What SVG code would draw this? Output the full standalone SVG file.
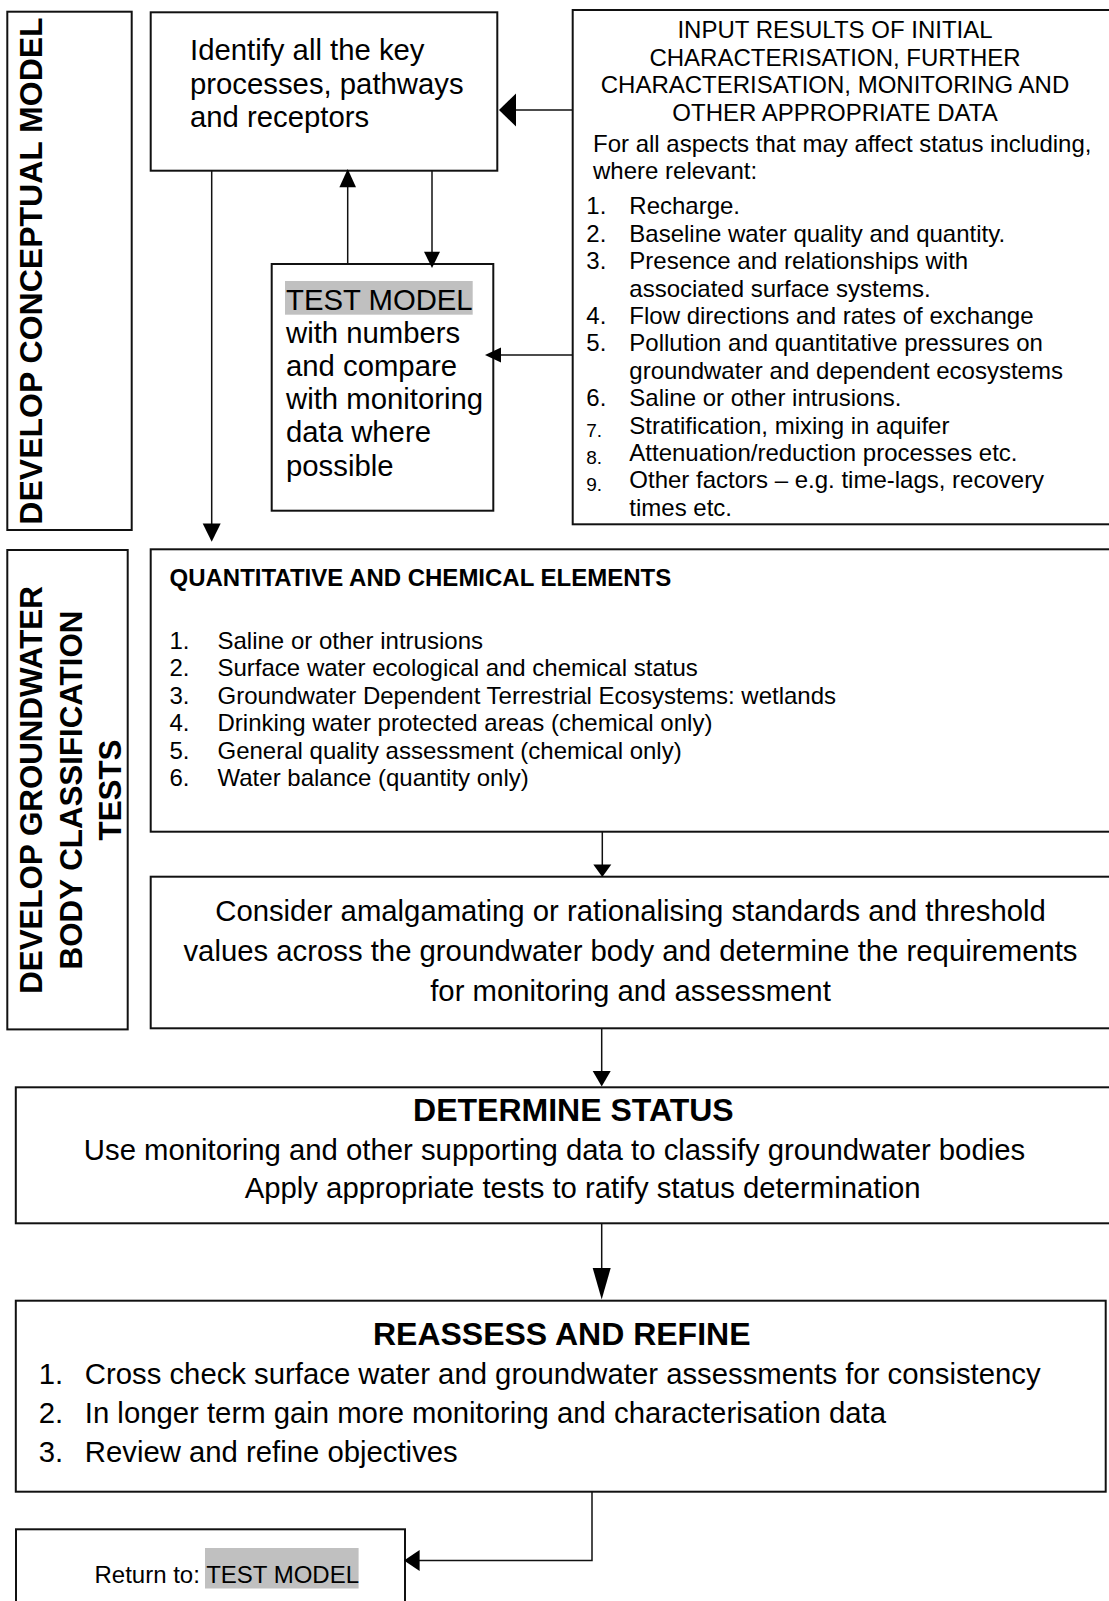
<svg xmlns="http://www.w3.org/2000/svg" width="1109" height="1601" viewBox="0 0 1109 1601">
<style>
.box{fill:#fff;stroke:#111;stroke-width:2}
.ln{fill:none;stroke:#111;stroke-width:1.5}
.ah{fill:#000;stroke:none}
.t{font-family:"Liberation Sans",Arial,sans-serif;fill:#000}
.b{font-weight:bold}
.hl{fill:#c0c0c0}
.s24{font-size:24px}
.s29{font-size:29.3px}
.s32{font-size:32px}
.m{text-anchor:middle}
</style>
<rect width="1109" height="1601" fill="#fff"/>

<g id="lane-conceptual">
<rect class="box" x="7.3" y="11.7" width="124.4" height="518.3"/>
<text class="t b s32 m" transform="translate(42,271) rotate(-90)">DEVELOP CONCEPTUAL MODEL</text>
</g>

<g id="lane-classification">
<rect class="box" x="7.3" y="550" width="120.4" height="479.4"/>
<text class="t b m" font-size="31.3" transform="translate(42,790) rotate(-90)">DEVELOP GROUNDWATER</text>
<text class="t b m" font-size="31.3" transform="translate(81.5,790) rotate(-90)">BODY CLASSIFICATION</text>
<text class="t b m" font-size="31.3" transform="translate(120.5,790) rotate(-90)">TESTS</text>
</g>

<g id="identify">
<rect class="box" x="150.7" y="12.3" width="346.6" height="158.4"/>
<text class="t s29" x="190" y="60">Identify all the key</text>
<text class="t s29" x="190" y="93.5">processes, pathways</text>
<text class="t s29" x="190" y="127">and receptors</text>
</g>

<g id="input">
<rect class="box" x="572.7" y="10" width="545" height="514.3"/>
<text class="t s24 m" x="835" y="38">INPUT RESULTS OF INITIAL</text>
<text class="t s24 m" x="835" y="65.5">CHARACTERISATION, FURTHER</text>
<text class="t s24 m" x="835" y="93">CHARACTERISATION, MONITORING AND</text>
<text class="t s24 m" x="835" y="120.5">OTHER APPROPRIATE DATA</text>
<text class="t s24" x="593" y="152.3">For all aspects that may affect status including,</text>
<text class="t s24" x="593" y="178.6">where relevant:</text>
<g class="t s24">
<text x="586.3" y="214.3">1.</text><text x="629.3" y="214.3">Recharge.</text>
<text x="586.3" y="241.7">2.</text><text x="629.3" y="241.7">Baseline water quality and quantity.</text>
<text x="586.3" y="269.1">3.</text><text x="629.3" y="269.1">Presence and relationships with</text>
<text x="629.3" y="296.5">associated surface systems.</text>
<text x="586.3" y="323.9">4.</text><text x="629.3" y="323.9">Flow directions and rates of exchange</text>
<text x="586.3" y="351.3">5.</text><text x="629.3" y="351.3">Pollution and quantitative pressures on</text>
<text x="629.3" y="378.7">groundwater and dependent ecosystems</text>
<text x="586.3" y="406.1">6.</text><text x="629.3" y="406.1">Saline or other intrusions.</text>
<text x="586.3" y="436.5" font-size="19">7.</text><text x="629.3" y="433.5">Stratification, mixing in aquifer</text>
<text x="586.3" y="463.9" font-size="19">8.</text><text x="629.3" y="460.9">Attenuation/reduction processes etc.</text>
<text x="586.3" y="491.3" font-size="19">9.</text><text x="629.3" y="488.3">Other factors – e.g. time-lags, recovery</text>
<text x="629.3" y="515.7">times etc.</text>
</g>
</g>

<g id="test-model">
<rect class="box" x="271.7" y="264" width="221.6" height="246.7"/>
<rect class="hl" x="285" y="281" width="187.7" height="33.7"/>
<text class="t s29" x="286" y="309.5">TEST MODEL</text>
<text class="t s29" x="286" y="342.7">with numbers</text>
<text class="t s29" x="286" y="375.9">and compare</text>
<text class="t s29" x="286" y="409.1">with monitoring</text>
<text class="t s29" x="286" y="442.3">data where</text>
<text class="t s29" x="286" y="475.5">possible</text>
</g>

<g id="quantitative">
<rect class="box" x="150.7" y="549.3" width="967" height="282.4"/>
<text class="t b s24" x="169.5" y="586">QUANTITATIVE AND CHEMICAL ELEMENTS</text>
<g class="t s24">
<text x="169.5" y="648.5">1.</text><text x="217.5" y="648.5">Saline or other intrusions</text>
<text x="169.5" y="676">2.</text><text x="217.5" y="676">Surface water ecological and chemical status</text>
<text x="169.5" y="703.5">3.</text><text x="217.5" y="703.5">Groundwater Dependent Terrestrial Ecosystems: wetlands</text>
<text x="169.5" y="731">4.</text><text x="217.5" y="731">Drinking water protected areas (chemical only)</text>
<text x="169.5" y="758.5">5.</text><text x="217.5" y="758.5">General quality assessment (chemical only)</text>
<text x="169.5" y="786">6.</text><text x="217.5" y="786">Water balance (quantity only)</text>
</g>
</g>

<g id="consider">
<rect class="box" x="150.7" y="876.7" width="967" height="151.6"/>
<text class="t s29 m" x="630.5" y="920.5">Consider amalgamating or rationalising standards and threshold</text>
<text class="t s29 m" x="630.5" y="960.5">values across the groundwater body and determine the requirements</text>
<text class="t s29 m" x="630.5" y="1000.5">for monitoring and assessment</text>
</g>

<g id="determine-status">
<rect class="box" x="15.8" y="1087.3" width="1102" height="136"/>
<text class="t b s32 m" x="573.4" y="1121">DETERMINE STATUS</text>
<text class="t s29 m" x="554.5" y="1160">Use monitoring and other supporting data to classify groundwater bodies</text>
<text class="t s29 m" x="582.6" y="1198">Apply appropriate tests to ratify status determination</text>
</g>

<g id="reassess">
<rect class="box" x="15.8" y="1300.7" width="1089.9" height="191"/>
<text class="t b s32 m" x="561.7" y="1345">REASSESS AND REFINE</text>
<g class="t s29">
<text x="38.8" y="1384">1.</text><text x="84.8" y="1384">Cross check surface water and groundwater assessments for consistency</text>
<text x="38.8" y="1423">2.</text><text x="84.8" y="1423">In longer term gain more monitoring and characterisation data</text>
<text x="38.8" y="1461.5">3.</text><text x="84.8" y="1461.5">Review and refine objectives</text>
</g>
</g>

<g id="return">
<rect class="box" x="16" y="1529.3" width="389" height="90"/>
<rect class="hl" x="205" y="1548" width="153.6" height="40.5"/>
<text class="t s24" x="94.5" y="1583">Return to: <tspan>TEST MODEL</tspan></text>
</g>

<g id="connectors">
<line class="ln" x1="211.7" y1="170.7" x2="211.7" y2="525"/>
<polygon class="ah" points="202.7,523.5 220.7,523.5 211.7,541.7"/>
<line class="ln" x1="347.7" y1="264" x2="347.7" y2="186"/>
<polygon class="ah" points="339.4,187.3 356,187.3 347.7,169"/>
<line class="ln" x1="432" y1="170.7" x2="432" y2="253"/>
<polygon class="ah" points="424,251.7 440,251.7 432,268"/>
<line class="ln" x1="572.7" y1="110" x2="514" y2="110"/>
<polygon class="ah" points="516,93.5 516,126.5 499,110"/>
<line class="ln" x1="572.7" y1="355" x2="500" y2="355"/>
<polygon class="ah" points="501,347.5 501,362.5 485,355"/>
<line class="ln" x1="602.3" y1="831.7" x2="602.3" y2="866"/>
<polygon class="ah" points="593.3,864.5 611.3,864.5 602.3,877"/>
<line class="ln" x1="601.7" y1="1028.3" x2="601.7" y2="1072"/>
<polygon class="ah" points="592.7,1071 610.7,1071 601.7,1086.5"/>
<line class="ln" x1="601.7" y1="1223.3" x2="601.7" y2="1269"/>
<polygon class="ah" points="592.7,1268 610.7,1268 601.7,1299.5"/>
<polyline class="ln" points="592,1491.7 592,1560.5 418,1560.5"/>
<polygon class="ah" points="419.6,1550 419.6,1571 404,1560.5"/>
</g>
</svg>
